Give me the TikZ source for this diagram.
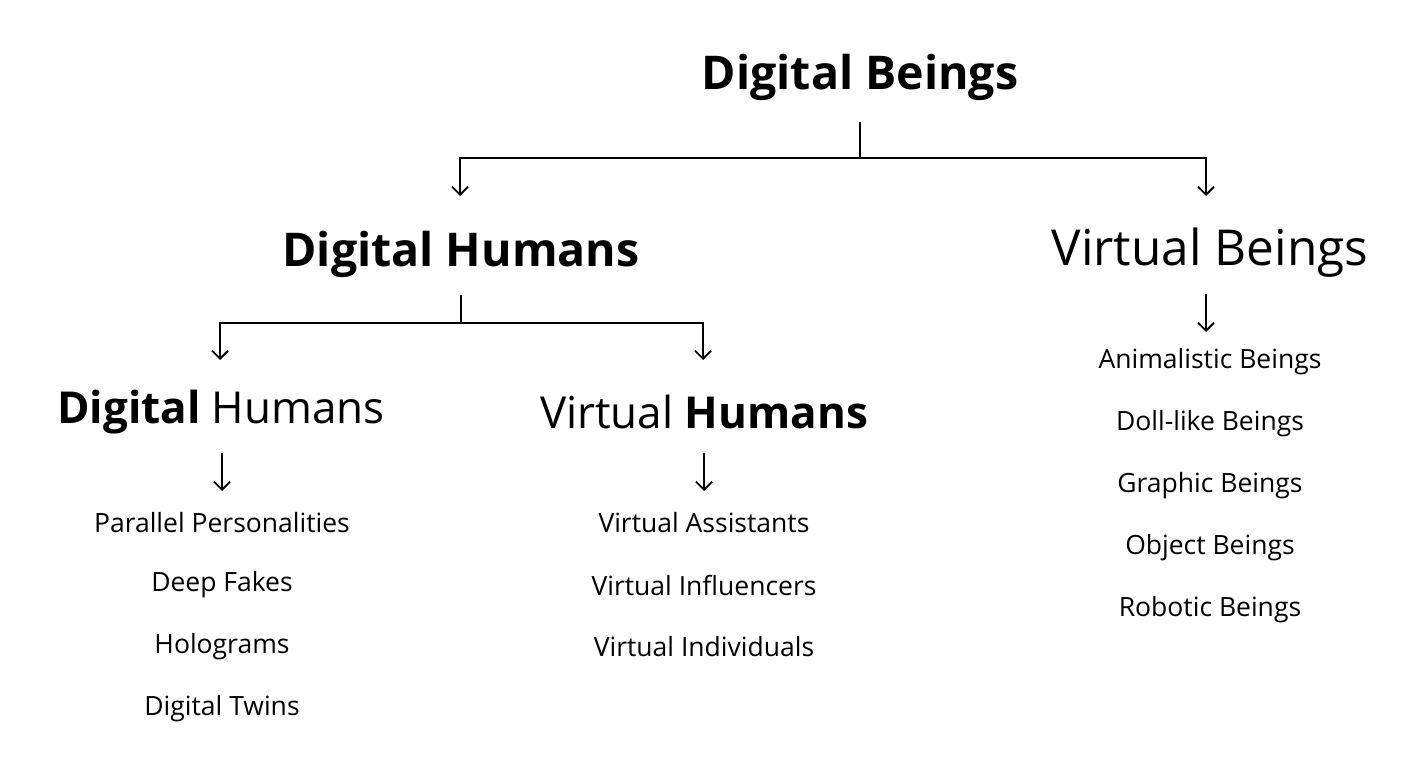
\documentclass[tikz,border=0pt]{standalone}
\usepackage{fontspec}
\setmainfont{Open Sans}
\usetikzlibrary{arrows.meta}
\tikzstyle{big} = [font=\fontsize{49.5}{58}\selectfont, inner sep=0pt]
\tikzstyle{bigbold} = [big, font=\fontsize{46.5}{56}\selectfont\bfseries]
\tikzstyle{mixed} = [big, font=\fontsize{44}{52}\selectfont]
\tikzstyle{item} = [font=\fontsize{26.5}{30}\selectfont, inner sep=0pt]
\tikzstyle{line} = [line width=1.8pt]
\tikzstyle{arrow} = [line width=1.8pt, -{Straight Barb[length=8pt, width=16pt, line width=1.8pt]}]

\begin{document}
\begin{tikzpicture}[x=1pt, y=-1pt, node distance=62pt]
	\useasboundingbox (0,0) rectangle (1425,767);
	% headings
	\node (DB) [bigbold] at (860,77) {Digital Beings};
	\node (DH) [bigbold] at (461,254) {Digital Humans};
	\node (VB) [big] at (1210,253) {Virtual Beings};
	\node (DHd) [mixed] at (221,412) {\textbf{Digital} Humans};
	\node (VHu) [mixed] at (704,412) {Virtual \textbf{Humans}};
	% lists
	\node (PP) [item] at (222,523) {Parallel Personalities};
	\node (DF) [item, below of=PP] {Deep Fakes};
	\node (HG) [item, below of=DF] {Holograms};
	\node (DT) [item, below of=HG] {Digital Twins};
	\node (VA) [item] at (704,523) {Virtual Assistants};
	\node (VIf) [item, below of=VA] {Virtual Influencers};
	\node (VId) [item, below of=VIf] {Virtual Individuals};
	\node (AB) [item] at (1210,362) {Animalistic Beings};
	\node (DLB) [item, below of=AB] {Doll-like Beings};
	\node (GB) [item, below of=DLB] {Graphic Beings};
	\node (OB) [item, below of=GB] {Object Beings};
	\node (RB) [item, below of=OB] {Robotic Beings};
	% connector points
	\coordinate (DB-stem) at (860,122);
	\coordinate (DB-fork) at (860,158);
	\coordinate (DH-in) at (460,196);
	\coordinate (VB-in) at (1206,196);
	\coordinate (DH-stem) at (461,295);
	\coordinate (DH-fork) at (461,323);
	\coordinate (DHd-in) at (220,360);
	\coordinate (VHu-in) at (703,360);
	\coordinate (VB-stem) at (1206,294);
	\coordinate (VB-out) at (1206,332);
	\coordinate (DHd-stem) at (222,453);
	\coordinate (DHd-out) at (222,491);
	\coordinate (VHu-stem) at (704,453);
	\coordinate (VHu-out) at (704,491);
	% connectors
	\draw [line] (DB-stem) -- (DB-fork);
	\draw [arrow] (DB-fork) -| (DH-in);
	\draw [arrow] (DB-fork) -| (VB-in);
	\draw [line] (DH-stem) -- (DH-fork);
	\draw [arrow] (DH-fork) -| (DHd-in);
	\draw [arrow] (DH-fork) -| (VHu-in);
	\draw [arrow] (VB-stem) -- (VB-out);
	\draw [arrow] (DHd-stem) -- (DHd-out);
	\draw [arrow] (VHu-stem) -- (VHu-out);
\end{tikzpicture}
\end{document}
